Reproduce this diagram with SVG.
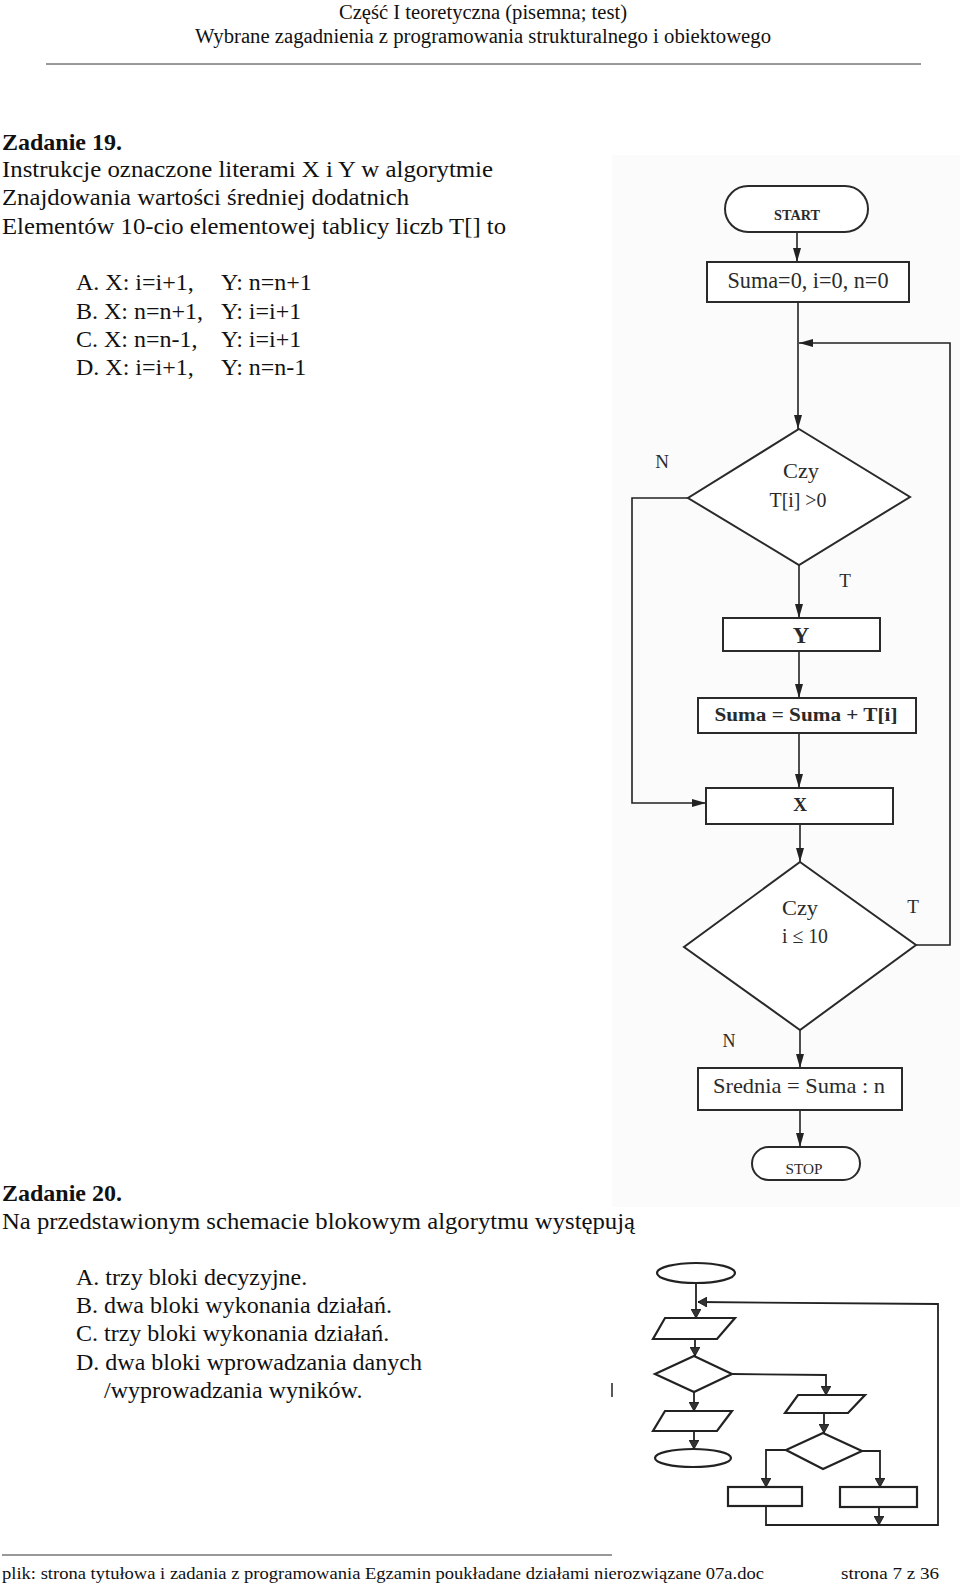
<svg xmlns="http://www.w3.org/2000/svg" width="960" height="1587" viewBox="0 0 960 1587">
<style>
text{font-family:"Liberation Serif","Times New Roman",serif;fill:#111}
.hdr{font-size:20px}
.body{font-size:24px}
.b{font-weight:bold}
.ft{font-size:17px}
.fc{font-family:"Liberation Serif",serif;fill:#2a2a2a}
.ln{fill:none;stroke:#222;stroke-width:1.6}
.box{fill:#fff;stroke:#2a2a2a;stroke-width:2}
.ch{fill:#fff;stroke:#222;stroke-width:2.2}
.cl{fill:none;stroke:#222;stroke-width:1.8}
</style>
<defs>
<marker id="a1" markerUnits="userSpaceOnUse" markerWidth="14" markerHeight="8" refX="14" refY="4" orient="auto"><path d="M0,0 L14,4 L0,8 z" fill="#222"/></marker>
<marker id="a2" markerUnits="userSpaceOnUse" markerWidth="9" markerHeight="10" refX="9" refY="5" orient="auto"><path d="M0,0 L9,5 L0,10 z" fill="#333" stroke="#111" stroke-width="0.8"/></marker>
</defs>
<rect width="960" height="1587" fill="#fff"/>
<rect x="612" y="155" width="348" height="1052" fill="#fbfbfb"/>

<!-- header -->
<text class="hdr" x="483" y="19" text-anchor="middle" textLength="288" lengthAdjust="spacingAndGlyphs">Część I teoretyczna (pisemna; test)</text>
<text class="hdr" x="483" y="43" text-anchor="middle" textLength="576" lengthAdjust="spacingAndGlyphs">Wybrane zagadnienia z programowania strukturalnego i obiektowego</text>
<line x1="46" y1="64" x2="921" y2="64" stroke="#333" stroke-width="1"/>

<!-- Zadanie 19 -->
<text class="body b" x="2" y="150">Zadanie 19.</text>
<text class="body" x="2" y="177" textLength="491" lengthAdjust="spacingAndGlyphs">Instrukcje oznaczone literami X i Y w algorytmie</text>
<text class="body" x="2" y="205" textLength="407" lengthAdjust="spacingAndGlyphs">Znajdowania wartości średniej dodatnich</text>
<text class="body" x="2" y="234" textLength="504" lengthAdjust="spacingAndGlyphs">Elementów 10-cio elementowej tablicy liczb T[] to</text>
<text class="body" x="76" y="290">A. X: i=i+1,</text><text class="body" x="221" y="290">Y: n=n+1</text>
<text class="body" x="76" y="319">B. X: n=n+1,</text><text class="body" x="221" y="319">Y: i=i+1</text>
<text class="body" x="76" y="347">C. X: n=n-1,</text><text class="body" x="221" y="347">Y: i=i+1</text>
<text class="body" x="76" y="375">D. X: i=i+1,</text><text class="body" x="221" y="375">Y: n=n-1</text>

<!-- Flowchart 1 connectors -->
<g id="connectors1">
<line class="ln" x1="797" y1="232" x2="797" y2="262" marker-end="url(#a1)" stroke-width="2.2"/>
<line class="ln" x1="798" y1="302" x2="798" y2="429" marker-end="url(#a1)"/>
<polyline class="ln" points="916,945 950,945 950,343 799,343" marker-end="url(#a1)" stroke-width="2"/>
<polyline class="ln" points="688,498 632,498 632,803 706,803" marker-end="url(#a1)"/>
<line class="ln" x1="799" y1="565" x2="799" y2="618" marker-end="url(#a1)"/>
<line class="ln" x1="799" y1="651" x2="799" y2="698" marker-end="url(#a1)"/>
<line class="ln" x1="799" y1="733" x2="799" y2="788" marker-end="url(#a1)"/>
<line class="ln" x1="800" y1="824" x2="800" y2="862" marker-end="url(#a1)"/>
<line class="ln" x1="800" y1="1030" x2="800" y2="1068" marker-end="url(#a1)"/>
<line class="ln" x1="800" y1="1110" x2="800" y2="1147" marker-end="url(#a1)"/>
<text class="fc" x="662" y="468" font-size="19" text-anchor="middle">N</text>
<text class="fc" x="845" y="587" font-size="19" text-anchor="middle">T</text>
<text class="fc" x="913" y="913" font-size="19" text-anchor="middle">T</text>
<text class="fc" x="729" y="1047" font-size="18" text-anchor="middle">N</text>
</g>

<g id="start">
<rect x="725" y="186" width="143" height="46" rx="23" class="box"/>
<text class="fc b" x="797" y="220" font-size="15" text-anchor="middle" textLength="46" lengthAdjust="spacingAndGlyphs">START</text>
</g>
<g id="init">
<rect x="707" y="262" width="202" height="40" class="box" stroke-width="2.6"/>
<text class="fc" x="808" y="288" font-size="23" text-anchor="middle" textLength="161" lengthAdjust="spacingAndGlyphs">Suma=0, i=0, n=0</text>
</g>
<g id="dec1">
<polygon points="799,429 910,497 799,565 688,498" class="box" stroke-width="1.6"/>
<text class="fc" x="801" y="478" font-size="21" text-anchor="middle" textLength="36" lengthAdjust="spacingAndGlyphs">Czy</text>
<text class="fc" x="798" y="507" font-size="20" text-anchor="middle" textLength="57" lengthAdjust="spacingAndGlyphs">T[i] &gt;0</text>
</g>
<g id="nodeY">
<rect x="723" y="618" width="157" height="33" class="box"/>
<text class="fc b" x="801" y="643" font-size="23" text-anchor="middle">Y</text>
</g>
<g id="suma">
<rect x="698" y="698" width="218" height="35" class="box"/>
<text class="fc b" x="806" y="721" font-size="18" text-anchor="middle" textLength="183" lengthAdjust="spacingAndGlyphs">Suma = Suma + T[i]</text>
</g>
<g id="nodeX">
<rect x="706" y="788" width="187" height="36" class="box"/>
<text class="fc b" x="800" y="811" font-size="19" text-anchor="middle">X</text>
</g>
<g id="dec2">
<polygon points="800,862 916,945 800,1030 684,947" class="box" stroke-width="1.6"/>
<text class="fc" x="800" y="915" font-size="21" text-anchor="middle" textLength="36" lengthAdjust="spacingAndGlyphs">Czy</text>
<text class="fc" x="805" y="943" font-size="21" text-anchor="middle" textLength="46" lengthAdjust="spacingAndGlyphs">i ≤ 10</text>
</g>
<g id="srednia">
<rect x="698" y="1068" width="204" height="42" class="box"/>
<text class="fc" x="799" y="1093" font-size="21" text-anchor="middle" textLength="172" lengthAdjust="spacingAndGlyphs">Srednia = Suma : n</text>
</g>
<g id="stop">
<rect x="752" y="1147" width="108" height="33" rx="16.5" class="box" stroke-width="1.6"/>
<text class="fc" x="804" y="1174" font-size="15" text-anchor="middle" textLength="37" lengthAdjust="spacingAndGlyphs">STOP</text>
</g>

<!-- Zadanie 20 -->
<text class="body b" x="2" y="1201">Zadanie 20.</text>
<text class="body" x="2" y="1229" textLength="633" lengthAdjust="spacingAndGlyphs">Na przedstawionym schemacie blokowym algorytmu występują</text>
<text class="body" x="76" y="1285">A. trzy bloki decyzyjne.</text>
<text class="body" x="76" y="1313">B. dwa bloki wykonania działań.</text>
<text class="body" x="76" y="1341">C. trzy bloki wykonania działań.</text>
<text class="body" x="76" y="1370">D. dwa bloki wprowadzania danych</text>
<text class="body" x="104" y="1398">/wyprowadzania wyników.</text>
<line x1="612" y1="1383" x2="612" y2="1397" stroke="#222" stroke-width="1.5"/>

<!-- Flowchart 2 -->
<g id="connectors2">
<line class="cl" x1="696" y1="1283" x2="696" y2="1318" marker-end="url(#a2)"/>
<polyline class="cl" points="766,1506 766,1525 938,1525 938,1304 698,1302" marker-end="url(#a2)"/>
<line class="cl" x1="695" y1="1339" x2="695" y2="1356" marker-end="url(#a2)"/>
<polyline class="cl" points="732,1374 826,1375 826,1395" marker-end="url(#a2)"/>
<line class="cl" x1="694" y1="1392" x2="694" y2="1411" marker-end="url(#a2)"/>
<line class="cl" x1="694" y1="1431" x2="694" y2="1449" marker-end="url(#a2)"/>
<line class="cl" x1="824" y1="1413" x2="824" y2="1433" marker-end="url(#a2)"/>
<polyline class="cl" points="786,1450 766,1450 766,1487" marker-end="url(#a2)"/>
<polyline class="cl" points="862,1451 880,1451 880,1487" marker-end="url(#a2)"/>
<line class="cl" x1="879" y1="1507" x2="879" y2="1525" marker-end="url(#a2)"/>
</g>
<g id="c2start"><ellipse cx="696" cy="1273" rx="39" ry="10" class="ch"/></g>
<g id="c2in1"><polygon points="665,1318 735,1318 717,1339 653,1339" class="ch"/></g>
<g id="c2dec1"><polygon points="694,1356 732,1374 694,1392 655,1374" class="ch"/></g>
<g id="c2out1"><polygon points="665,1411 732,1411 717,1431 653,1431" class="ch"/></g>
<g id="c2end"><ellipse cx="693" cy="1458" rx="38" ry="9" class="ch"/></g>
<g id="c2in2"><polygon points="798,1395 865,1395 848,1413 785,1413" class="ch"/></g>
<g id="c2dec2"><polygon points="823,1433 862,1451 823,1469 786,1450" class="ch"/></g>
<g id="c2box1"><rect x="728" y="1487" width="74" height="19" class="ch"/></g>
<g id="c2box2"><rect x="840" y="1487" width="77" height="20" class="ch"/></g>

<!-- footer -->
<line x1="2" y1="1555" x2="612" y2="1555" stroke="#333" stroke-width="1"/>
<text class="ft" x="2" y="1579" textLength="762" lengthAdjust="spacingAndGlyphs">plik: strona tytułowa i zadania z programowania Egzamin poukładane działami nierozwiązane 07a.doc</text>
<text class="ft" x="841" y="1579" textLength="98" lengthAdjust="spacingAndGlyphs">strona 7 z 36</text>
</svg>
